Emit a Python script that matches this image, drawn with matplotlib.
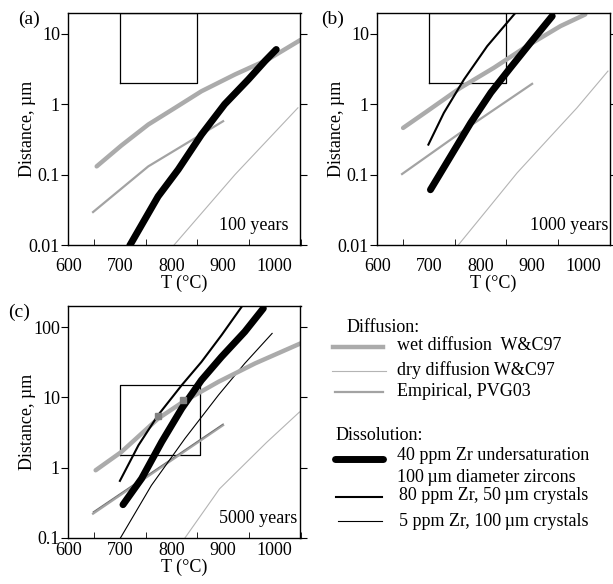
import matplotlib
matplotlib.use("Agg")
import matplotlib.pyplot as plt
from matplotlib.ticker import FixedLocator, NullFormatter

plt.rcParams["font.family"] = ["Liberation Serif", "DejaVu Serif"]
plt.rcParams["font.size"] = 13

# ---- dados (T em C, distancia em um) ----
# painel (a) 100 anos
a_wet_T = [655, 703, 755, 807, 858, 923, 987, 1050]
a_wet_D = [0.131, 0.26, 0.515, 0.89, 1.53, 2.65, 4.33, 8.2]
a_emp_T = [648, 755, 900]
a_emp_D = [0.0294, 0.131, 0.574]
a_dry_T = [805, 923, 1045]
a_dry_D = [0.01, 0.1, 0.89]
a_z40_T = [719, 774, 813, 858, 903, 949, 981, 1003]
a_z40_D = [0.0098, 0.049, 0.118, 0.37, 1.0, 2.25, 4.1, 6.0]

# painel (b) 1000 anos
b_wet_T = [650, 697, 761, 826, 890, 955, 1003]
b_wet_D = [0.461, 0.80, 1.71, 3.3, 6.7, 12.9, 18.9]
b_emp_T = [648, 774, 900]
b_emp_D = [0.102, 0.46, 1.95]
b_dry_T = [757, 813, 871, 936, 987, 1047]
b_dry_D = [0.01, 0.0318, 0.106, 0.35, 0.89, 2.96]
b_z80_T = [699, 729, 768, 813, 868]
b_z80_D = [0.267, 0.755, 2.25, 6.7, 20.0]
b_z40_T = [703, 742, 781, 820, 858, 897, 939]
b_z40_D = [0.061, 0.182, 0.544, 1.46, 3.3, 7.5, 17.9]

# painel (c) 5000 anos
c_wet_T = [653, 703, 774, 823, 891, 962, 1050]
c_wet_D = [0.92, 1.68, 5.0, 8.7, 16.7, 30.5, 58.7]
c_emp_T = [648, 900]
c_emp_D = [0.222, 4.03]
c_emp2_T = [648, 900]
c_emp2_D = [0.235, 4.2]
c_dry_T = [826, 893, 984, 1048]
c_dry_D = [0.1, 0.5, 2.28, 6.2]
c_z5_T = [701, 761, 826, 891, 942, 995]
c_z5_D = [0.1, 0.56, 2.6, 10.8, 30.5, 81.5]
c_z80_T = [700, 736, 774, 820, 858, 897, 936]
c_z80_D = [0.65, 2.09, 5.6, 15.0, 32.0, 77.0, 195.0]
c_z40_T = [706, 742, 781, 820, 858, 897, 942, 978]
c_z40_D = [0.298, 0.70, 2.33, 7.0, 17.6, 37.9, 86.0, 185.0]
c_mark_T = [773, 823]
c_mark_D = [5.4, 9.1]

# caixas (T1, T2, D1, D2)
caixa_ab = (700, 850, 2, 20)
caixa_c = (700, 855, 1.5, 15)

# estilos das linhas
st_wet = dict(color="#ababab", lw=3.2, solid_capstyle="round", solid_joinstyle="round")
st_emp = dict(color="#a3a3a3", lw=1.6)
st_dry = dict(color="#b4b4b4", lw=0.8)
st_z40 = dict(color="black", lw=5.0, solid_capstyle="round", solid_joinstyle="round")
st_z80 = dict(color="black", lw=1.5, solid_joinstyle="round")
st_z5 = dict(color="black", lw=0.8)

fig = plt.figure(figsize=(6.13, 5.84), dpi=100)
W, H = 613, 584


def eixo(x0, y0, x1, y1):
    return fig.add_axes([x0 / W, 1 - y1 / H, (x1 - x0) / W, (y1 - y0) / H])


def formata(ax, ylim, yticks, ylabels, xpad):
    ax.set_yscale("log")
    ax.set_xlim(600, 1050)
    ax.set_ylim(*ylim)
    ax.yaxis.set_major_locator(FixedLocator(yticks))
    ax.set_yticklabels(ylabels)
    ax.yaxis.set_minor_locator(FixedLocator([]))
    ax.yaxis.set_minor_formatter(NullFormatter())
    ax.tick_params(axis="y", which="major", direction="out", length=5,
                   left=True, right=True, labelsize=13, pad=1)
    ax.set_xticks([600, 700, 800, 900, 1000])
    ax.set_xticks([650, 750, 850, 950, 1050], minor=True)
    ax.tick_params(axis="x", which="major", length=0, labelsize=13, pad=xpad)
    ax.tick_params(axis="x", which="minor", direction="in", length=4)
    ax.set_xlabel("T (°C)", fontsize=13, labelpad=0)
    ax.set_ylabel("Distance, µm", fontsize=13)
    ax.yaxis.set_label_coords(-0.137, 0.5)
    for s in ax.spines.values():
        s.set_linewidth(1.0)


def caixa(ax, c):
    t1, t2, d1, d2 = c
    ax.plot([t1, t2, t2, t1, t1], [d1, d1, d2, d2, d1], color="black", lw=0.9)


# ---- (a) ----
ax = eixo(68.3, 12.7, 300.5, 245)
formata(ax, (0.01, 20), [0.01, 0.1, 1, 10], ["0.01", "0.1", "1", "10"], 9)
caixa(ax, caixa_ab)
ax.plot(a_dry_T, a_dry_D, **st_dry)
ax.plot(a_emp_T, a_emp_D, **st_emp)
ax.plot(a_wet_T, a_wet_D, **st_wet)
ax.plot(a_z40_T, a_z40_D, **st_z40)
ax.text(0.95, 0.065, "100 years", transform=ax.transAxes, ha="right", fontsize=13)
fig.text(18 / W, 1 - 19 / H, "(a)", fontsize=14, va="center")

# ---- (b) ----
ax = eixo(377.3, 12.7, 609.5, 245)
formata(ax, (0.01, 20), [0.01, 0.1, 1, 10], ["0.01", "0.1", "1", "10"], 9)
caixa(ax, caixa_ab)
ax.plot(b_dry_T, b_dry_D, **st_dry)
ax.plot(b_emp_T, b_emp_D, **st_emp)
ax.plot(b_wet_T, b_wet_D, **st_wet)
ax.plot(b_z80_T, b_z80_D, **st_z80)
ax.plot(b_z40_T, b_z40_D, **st_z40)
ax.text(0.995, 0.065, "1000 years", transform=ax.transAxes, ha="right", fontsize=13)
fig.text(321 / W, 1 - 19 / H, "(b)", fontsize=14, va="center")

# ---- (c) ----
ax = eixo(68.3, 306, 300.5, 538)
formata(ax, (0.1, 200), [0.1, 1, 10, 100], ["0.1", "1", "10", "100"], 3)
caixa(ax, caixa_c)
ax.plot(c_dry_T, c_dry_D, **st_dry)
ax.plot(c_emp_T, c_emp_D, **st_emp)
ax.plot(c_emp2_T, c_emp2_D, color="#707070", lw=0.7)
ax.plot(c_z5_T, c_z5_D, **st_z5)
ax.plot(c_wet_T, c_wet_D, **st_wet)
ax.plot(c_z80_T, c_z80_D, **st_z80)
ax.plot(c_z40_T, c_z40_D, **st_z40)
ax.plot(c_mark_T, c_mark_D, ls="none", marker="s", ms=4, color="#808080")
ax.text(0.985, 0.065, "5000 years", transform=ax.transAxes, ha="right", fontsize=13)
fig.text(8 / W, 1 - 312 / H, "(c)", fontsize=14, va="center")

# ---- legenda (desenhada a mao, em pixels) ----
lg = fig.add_axes([0, 0, 1, 1])
lg.set_xlim(0, W)
lg.set_ylim(H, 0)
lg.axis("off")
lg.patch.set_alpha(0)

lg.text(347, 328, "Diffusion:", fontsize=13, va="center")
lg.plot([333, 383], [346.5, 346.5], color="#ababab", lw=3.2)
lg.text(397, 346, "wet diffusion  W&C97", fontsize=13, va="center")
lg.plot([332, 386], [370.5, 370.5], **st_dry)
lg.text(397, 370, "dry diffusion W&C97", fontsize=13, va="center")
lg.plot([335, 383], [392, 392], **st_emp)
lg.text(397, 392, "Empirical, PVG03", fontsize=13, va="center")

lg.text(335.5, 435, "Dissolution:", fontsize=13, va="center")
lg.plot([335, 383], [459, 459], color="black", lw=5.0, solid_capstyle="round")
lg.text(397, 455, "40 ppm Zr undersaturation", fontsize=13, va="center")
lg.text(397, 477, "100\u2009µm diameter zircons", fontsize=13, va="center")
lg.plot([336, 382], [497, 497], **st_z80)
lg.text(399, 496, "80 ppm Zr, 50\u2009µm crystals", fontsize=13, va="center")
lg.plot([338, 382], [521, 521], **st_z5)
lg.text(399, 521, "5 ppm Zr, 100\u2009µm crystals", fontsize=13, va="center")

fig.savefig("out.png", dpi=100)
